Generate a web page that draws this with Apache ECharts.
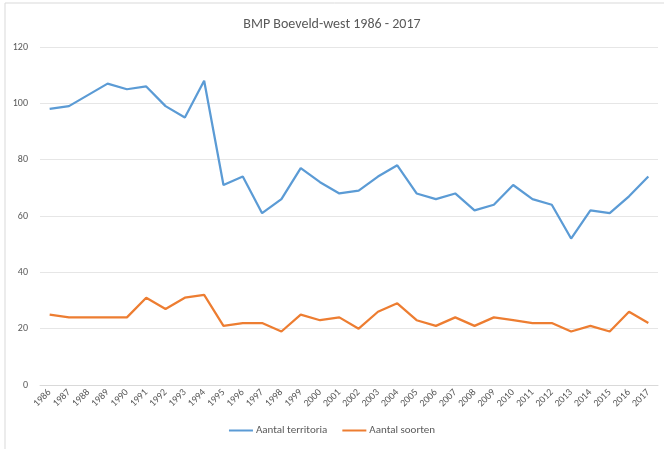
<!DOCTYPE html>
<html>
<head>
<meta charset="utf-8">
<script src="https://cdn.jsdelivr.net/npm/echarts@6/dist/echarts.min.js"></script>
<style>
  html, body { margin: 0; padding: 0; background: #fff; }
  #chart { width: 664px; height: 449px; }
</style>
</head>
<body>
<div id="chart"></div>
<script>
const years = ['1986','1987','1988','1989','1990','1991','1992','1993','1994','1995','1996','1997','1998','1999','2000','2001','2002','2003','2004','2005','2006','2007','2008','2009','2010','2011','2012','2013','2014','2015','2016','2017']
const territoria = [98, 99, 103, 107, 105, 106, 99, 95, 108, 71, 74, 61, 66, 77, 72, 68, 69, 74, 78, 68, 66, 68, 62, 64, 71, 66, 64, 52, 62, 61, 67, 74]
const soorten = [25, 24, 24, 24, 24, 31, 27, 31, 32, 21, 22, 22, 19, 25, 23, 24, 20, 26, 29, 23, 21, 24, 21, 24, 23, 22, 22, 19, 21, 19, 26, 22]

const chart = echarts.init(document.getElementById('chart'))

const textColor = '#595959'
const font = 'Calibri, Carlito, "Liberation Sans", sans-serif'

const option = {
  animation: false,
  backgroundColor: '#fff',
  title: {
    text: 'BMP Boeveld-west 1986 - 2017',
    left: 'center',
    top: 12,
    textStyle: { color: textColor, fontSize: 14, fontWeight: 'normal', fontFamily: font }
  },
  graphic: [
    { type: 'line', shape: { x1: 5, y1: 3, x2: 664, y2: 3 }, style: { stroke: '#d9d9d9', lineWidth: 1 } },
    { type: 'line', shape: { x1: 5, y1: 3, x2: 5, y2: 449 }, style: { stroke: '#d9d9d9', lineWidth: 1 } }
  ],
  legend: {
    bottom: 8,
    left: 'center',
    itemWidth: 24,
    itemHeight: 2,
    itemGap: 15,
    icon: 'rect',
    textStyle: { color: textColor, fontSize: 11, fontFamily: font, padding: [0, 0, 0, -2] },
    data: ['Aantal territoria', 'Aantal soorten']
  },
  grid: { left: 40, right: 6, top: 47, bottom: 64 },
  xAxis: {
    type: 'category',
    data: years,
    boundaryGap: true,
    axisLine: { lineStyle: { color: '#d9d9d9' } },
    axisTick: { show: false },
    axisLabel: { color: textColor, fontSize: 10, rotate: 45, interval: 0, margin: 6, fontFamily: font }
  },
  yAxis: {
    type: 'value',
    min: 0,
    max: 120,
    interval: 20,
    axisLine: { show: false },
    axisTick: { show: false },
    axisLabel: { color: textColor, fontSize: 10, margin: 12, fontFamily: font },
    splitLine: { lineStyle: { color: '#e6e6e6' } }
  },
  series: [
    {
      name: 'Aantal territoria',
      type: 'line',
      data: territoria,
      symbol: 'none',
      lineStyle: { color: '#5B9BD5', width: 2.25 },
      itemStyle: { color: '#5B9BD5' }
    },
    {
      name: 'Aantal soorten',
      type: 'line',
      data: soorten,
      symbol: 'none',
      lineStyle: { color: '#ED7D31', width: 2.25 },
      itemStyle: { color: '#ED7D31' }
    }
  ]
}

chart.setOption(option)
</script>
</body>
</html>
